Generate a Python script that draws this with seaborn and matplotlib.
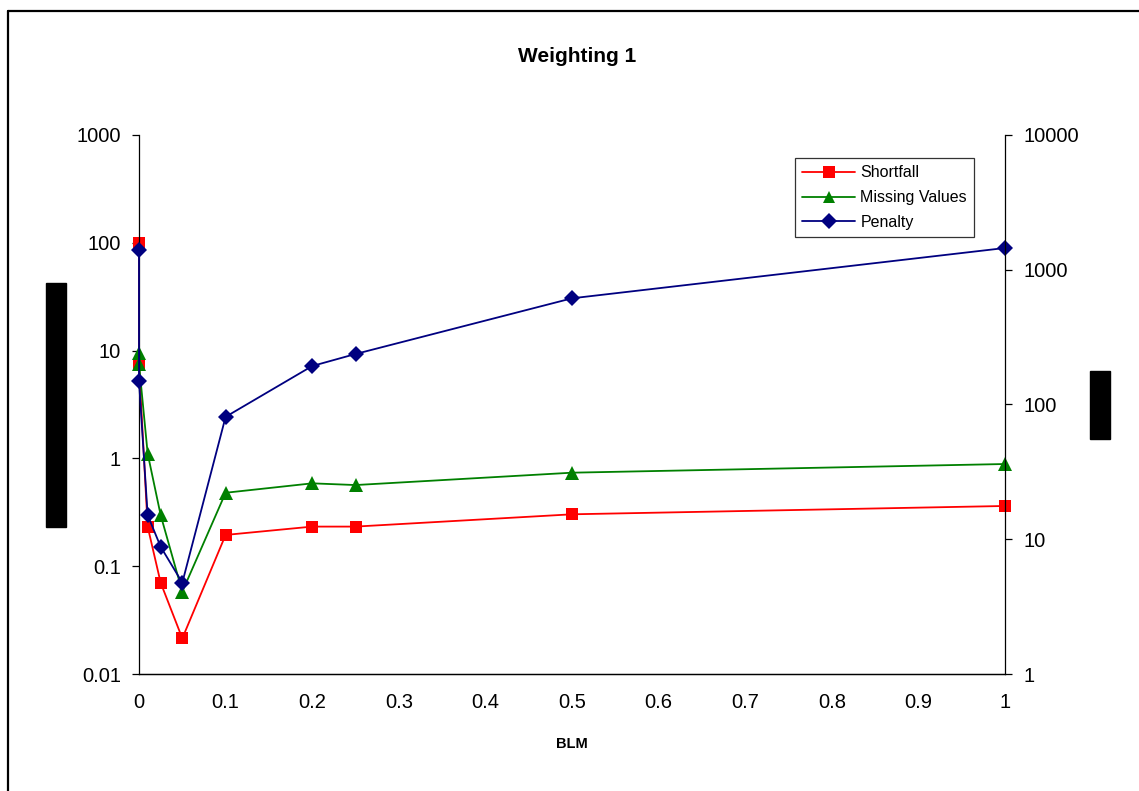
import matplotlib

matplotlib.use("Agg")
import matplotlib.pyplot as plt
import pandas as pd
import seaborn as sns
from matplotlib.lines import Line2D
from matplotlib.patches import Rectangle

# BLM values (two runs sit at BLM = 0)
BLM = [0, 0, 0.01, 0.025, 0.05, 0.1, 0.2, 0.25, 0.5, 1]
SHORTFALL = [100, 7.35, 0.233, 0.0703, 0.0214, 0.195, 0.233, 0.233, 0.303, 0.362]
MISSING = [9.4, 7.5, 1.11, 0.298, 0.058, 0.48, 0.587, 0.566, 0.737, 0.887]
PENALTY = [1400, 149, 15.1, 8.8, 4.76, 81, 193, 237, 614, 1450]

X_TICKS = [0, 0.1, 0.2, 0.3, 0.4, 0.5, 0.6, 0.7, 0.8, 0.9, 1]
X_LABELS = ["0", "0.1", "0.2", "0.3", "0.4", "0.5", "0.6", "0.7", "0.8", "0.9", "1"]
LEFT_TICKS = [0.01, 0.1, 1, 10, 100, 1000]
LEFT_LABELS = ["0.01", "0.1", "1", "10", "100", "1000"]
RIGHT_TICKS = [1, 10, 100, 1000, 10000]
RIGHT_LABELS = ["1", "10", "100", "1000", "10000"]

sns.set_style("white")
plt.rcParams["font.family"] = ["Liberation Sans", "DejaVu Sans"]
plt.rcParams["text.color"] = "black"

W, H = 1139, 791
fig = plt.figure(figsize=(W / 100, H / 100), dpi=100)
ax = fig.add_axes([139 / W, 1 - 674 / H, 866 / W, 539 / H])
ax2 = ax.twinx()

df = pd.DataFrame({"BLM": BLM, "Shortfall": SHORTFALL,
                   "Missing Values": MISSING, "Penalty": PENALTY})

line_kw = dict(estimator=None, sort=False, linewidth=1.3, markersize=9,
               markeredgewidth=0, clip_on=False)
sns.lineplot(data=df, x="BLM", y="Shortfall", ax=ax, color="#FF0000",
             marker="s", label="Shortfall", legend=False, **line_kw)
sns.lineplot(data=df, x="BLM", y="Missing Values", ax=ax, color="#008000",
             marker="^", label="Missing Values", legend=False,
             **{**line_kw, "markersize": 10})
sns.lineplot(data=df, x="BLM", y="Penalty", ax=ax2, color="#000080",
             marker="D", label="Penalty", legend=False,
             **{**line_kw, "markersize": 8})

ax.set_yscale("log")
ax2.set_yscale("log")
ax.set_xlim(0, 1)
ax.set_ylim(0.01, 1000)
ax2.set_ylim(1, 10000)

ax.set_xticks(X_TICKS, X_LABELS)
ax.set_yticks(LEFT_TICKS, LEFT_LABELS)
ax2.set_yticks(RIGHT_TICKS, RIGHT_LABELS)
ax.minorticks_off()
ax2.minorticks_off()

for a in (ax, ax2):
    a.set_ylabel("")
    a.spines["top"].set_visible(False)
    for s in ("left", "right", "bottom"):
        a.spines[s].set_linewidth(0.9)
        a.spines[s].set_color("black")
    a.tick_params(length=5, width=0.9, color="black", labelsize=14.5,
                  labelcolor="black", pad=8)
ax.tick_params(axis="x", pad=9)
ax2.spines["left"].set_visible(False)
ax.spines["right"].set_visible(False)

ax.set_xlabel("BLM", fontsize=10.5, fontweight="bold", labelpad=18,
              color="black")
fig.text(577 / W, 1 - 57 / H, "Weighting 1", ha="center", va="center",
         fontsize=15, fontweight="bold", color="black")

handles = ax.get_lines()[:2] + ax2.get_lines()[:1]
handles = [Line2D([], [], color=h.get_color(), marker=h.get_marker(),
                  markersize=8, linewidth=1.3, markeredgewidth=0)
           for h in handles]
leg = fig.legend(handles, ["Shortfall", "Missing Values", "Penalty"],
                 loc="upper left", bbox_to_anchor=(795 / W, 1 - 158 / H),
                 borderaxespad=0, fontsize=11.5, frameon=True, fancybox=False,
                 edgecolor="black", handlelength=3.3, handletextpad=0.35,
                 labelspacing=0.62, borderpad=0.45)
leg.get_frame().set_linewidth(0.9)
for t in leg.get_texts():
    t.set_color("black")

# redacted axis titles
fig.add_artist(Rectangle((46 / W, 1 - 527 / H), 20 / W, 244 / H,
                         transform=fig.transFigure, color="black"))
fig.add_artist(Rectangle((1090 / W, 1 - 439 / H), 20 / W, 68 / H,
                         transform=fig.transFigure, color="black"))

# chart border (left and top edges visible)
fig.add_artist(Line2D([7.5 / W, 7.5 / W], [0, 1 - 10.5 / H],
                      transform=fig.transFigure, color="black", linewidth=1.6))
fig.add_artist(Line2D([7.5 / W, 1], [1 - 10.5 / H, 1 - 10.5 / H],
                      transform=fig.transFigure, color="black", linewidth=1.6))

fig.savefig("out.png", dpi=100)
